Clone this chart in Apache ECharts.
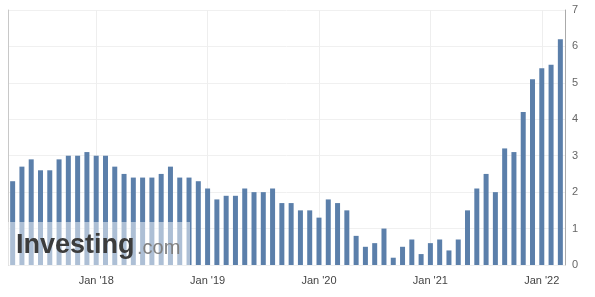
<!DOCTYPE html>
<html>
<head>
<meta charset="utf-8">
<script src="https://cdn.jsdelivr.net/npm/echarts@6/dist/echarts.min.js"></script>
<style>html,body{margin:0;padding:0;background:#fff}#c{width:595px;height:297px}</style>
</head>
<body>
<div id="c"></div>
<script>
// Release months (Apr '17 .. Mar '22)
const monthNames = ['Jan','Feb','Mar','Apr','May','Jun','Jul','Aug','Sep','Oct','Nov','Dec'];
const categories = [];
for (let y = 2017; y <= 2022; y++) {
  for (let m = 0; m < 12; m++) {
    if ((y === 2017 && m < 3) || (y === 2022 && m > 2)) continue;
    categories.push(monthNames[m] + " '" + String(y).slice(2));
  }
}
const values = [
  2.3, 2.7, 2.9, 2.6, 2.6, 2.9, 3.0, 3.0, 3.1, 3.0,
  3.0, 2.7, 2.5, 2.4, 2.4, 2.4, 2.5, 2.7, 2.4, 2.4, 2.3, 2.1,
  1.8, 1.9, 1.9, 2.1, 2.0, 2.0, 2.1, 1.7, 1.7, 1.5, 1.5, 1.3,
  1.8, 1.7, 1.5, 0.8, 0.5, 0.6, 1.0, 0.2, 0.5, 0.7, 0.3, 0.6,
  0.7, 0.4, 0.7, 1.5, 2.1, 2.5, 2.0, 3.2, 3.1, 4.2, 5.1, 5.4,
  5.5, 6.2
];
const yTicks = [0, 1, 2, 3, 4, 5, 6, 7];

const chart = echarts.init(document.getElementById('c'), null, {renderer: 'canvas'});
const isJan = (i) => categories[i] && categories[i].indexOf('Jan') === 0;
chart.setOption({
  animation: false,
  grid: {left: 8, right: 30, top: 10, bottom: 32},
  xAxis: {
    type: 'category',
    data: categories,
    boundaryGap: true,
    axisLine: {show: false},
    axisTick: {show: false},
    axisLabel: {
      interval: (i) => isJan(i),
      color: '#444', fontSize: 11, fontFamily: 'Liberation Sans, Arial, sans-serif', margin: 10
    },
    splitLine: {show: true, alignWithLabel: true, interval: (i) => isJan(i), lineStyle: {color: '#eeeeee', width: 1}}
  },
  yAxis: [{
    type: 'value',
    position: 'right',
    min: yTicks[0], max: yTicks[yTicks.length - 1], interval: 1,
    axisLine: {show: true, lineStyle: {color: '#aaaaaa'}},
    axisTick: {show: false},
    axisLabel: {color: '#666', fontSize: 11, fontFamily: 'Liberation Sans, Arial, sans-serif', margin: 7},
    splitLine: {show: true, lineStyle: {color: '#f0f0f0'}}
  }, {
    type: 'value',
    position: 'left',
    min: yTicks[0], max: yTicks[yTicks.length - 1], interval: 1,
    axisLine: {show: true, lineStyle: {color: '#c8c8c8'}},
    axisTick: {show: false},
    axisLabel: {show: false},
    splitLine: {show: false}
  }],
  series: [{
    type: 'bar',
    data: values,
    barWidth: 5,
    itemStyle: {color: '#5b7faa'},
    silent: true
  }],
  graphic: [
    {type: 'rect', shape: {x: 8, y: 222, width: 182, height: 43}, style: {fill: 'rgba(255,255,255,0.5)'}, z: 100},
    {type: 'text', x: 16, y: 259, z: 101, style: {text: 'Investing', font: 'bold 27px "Liberation Sans", Arial, sans-serif', fill: '#3c3c3c', verticalAlign: 'bottom'}},
    {type: 'text', x: 137, y: 258, z: 101, style: {text: '.com', font: '20px "Liberation Sans", Arial, sans-serif', fill: '#808080', verticalAlign: 'bottom'}}
  ]
});
</script>
</body>
</html>
